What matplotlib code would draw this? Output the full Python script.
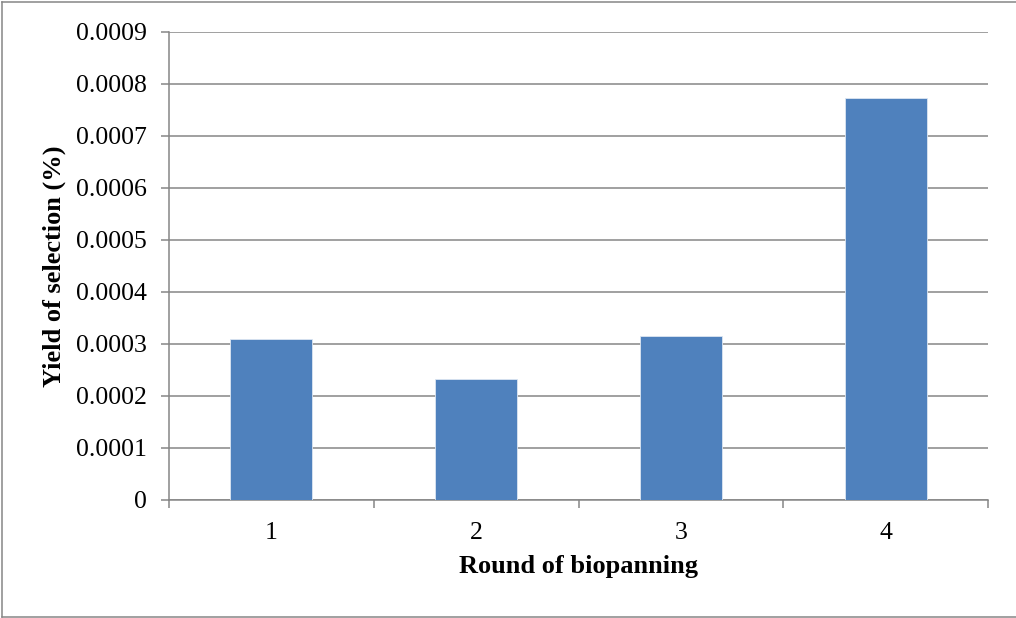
import matplotlib
matplotlib.use("Agg")
import matplotlib.pyplot as plt
from matplotlib.lines import Line2D
from matplotlib.ticker import FixedLocator, NullFormatter

# Yield of selection per biopanning round
rounds = ["1", "2", "3", "4"]
yield_pct = [0.000310, 0.000233, 0.000315, 0.000774]
y_ticks = [0, 0.0001, 0.0002, 0.0003, 0.0004, 0.0005, 0.0006, 0.0007, 0.0008, 0.0009]
y_tick_labels = ["0", "0.0001", "0.0002", "0.0003", "0.0004", "0.0005",
                 "0.0006", "0.0007", "0.0008", "0.0009"]

plt.rcParams["font.family"] = ["Liberation Serif", "DejaVu Serif"]

W, H = 1016, 618
fig = plt.figure(figsize=(W / 100, H / 100), dpi=100)
fig.patch.set_facecolor("white")
ax = fig.add_axes([169 / W, 1 - 500 / H, (988 - 169) / W, (500 - 32) / H])

grey = "#868686"
bar_color = "#4F81BD"

x = list(range(len(rounds)))
ax.bar(x, yield_pct, width=0.4, color=bar_color, edgecolor="#DCE6F2",
       linewidth=0.6, zorder=3)

ax.set_xlim(-0.5, len(rounds) - 0.5)
ax.set_ylim(0, 0.0009)
ax.set_yticks(y_ticks)
ax.set_yticklabels(y_tick_labels)
ax.set_xticks(x)
ax.set_xticklabels(rounds)
ax.xaxis.set_minor_locator(FixedLocator([i - 0.5 for i in range(len(rounds) + 1)]))
ax.xaxis.set_minor_formatter(NullFormatter())

ax.yaxis.grid(True, color=grey, linewidth=1.1, zorder=1)
ax.set_axisbelow(True)

for side in ("top", "right"):
    ax.spines[side].set_visible(False)
for side in ("left", "bottom"):
    ax.spines[side].set_color(grey)
    ax.spines[side].set_linewidth(1.1)

ax.tick_params(axis="y", which="major", direction="out", length=6, width=1.1,
               color=grey, pad=10, labelsize=18.5, labelcolor="black")
ax.tick_params(axis="x", which="major", length=0, pad=16, labelsize=18.5,
               labelcolor="black")
ax.tick_params(axis="x", which="minor", direction="out", length=6, width=1.1,
               color=grey)

ax.set_xlabel("Round of biopanning", fontsize=19, fontweight="bold", labelpad=8)
ax.set_ylabel("Yield of selection (%)", fontsize=19, fontweight="bold", labelpad=7)

# Chart frame (top, left and bottom edges)
for xs, ys in (([2 / W, 1], [1 - 2 / H, 1 - 2 / H]),
               ([2 / W, 2 / W], [1 - 2 / H, 1 - 617 / H]),
               ([2 / W, 1], [1 - 617 / H, 1 - 617 / H])):
    fig.add_artist(Line2D(xs, ys, transform=fig.transFigure, color=grey,
                          linewidth=1.1))

fig.savefig("out.png", dpi=100, facecolor="white")
